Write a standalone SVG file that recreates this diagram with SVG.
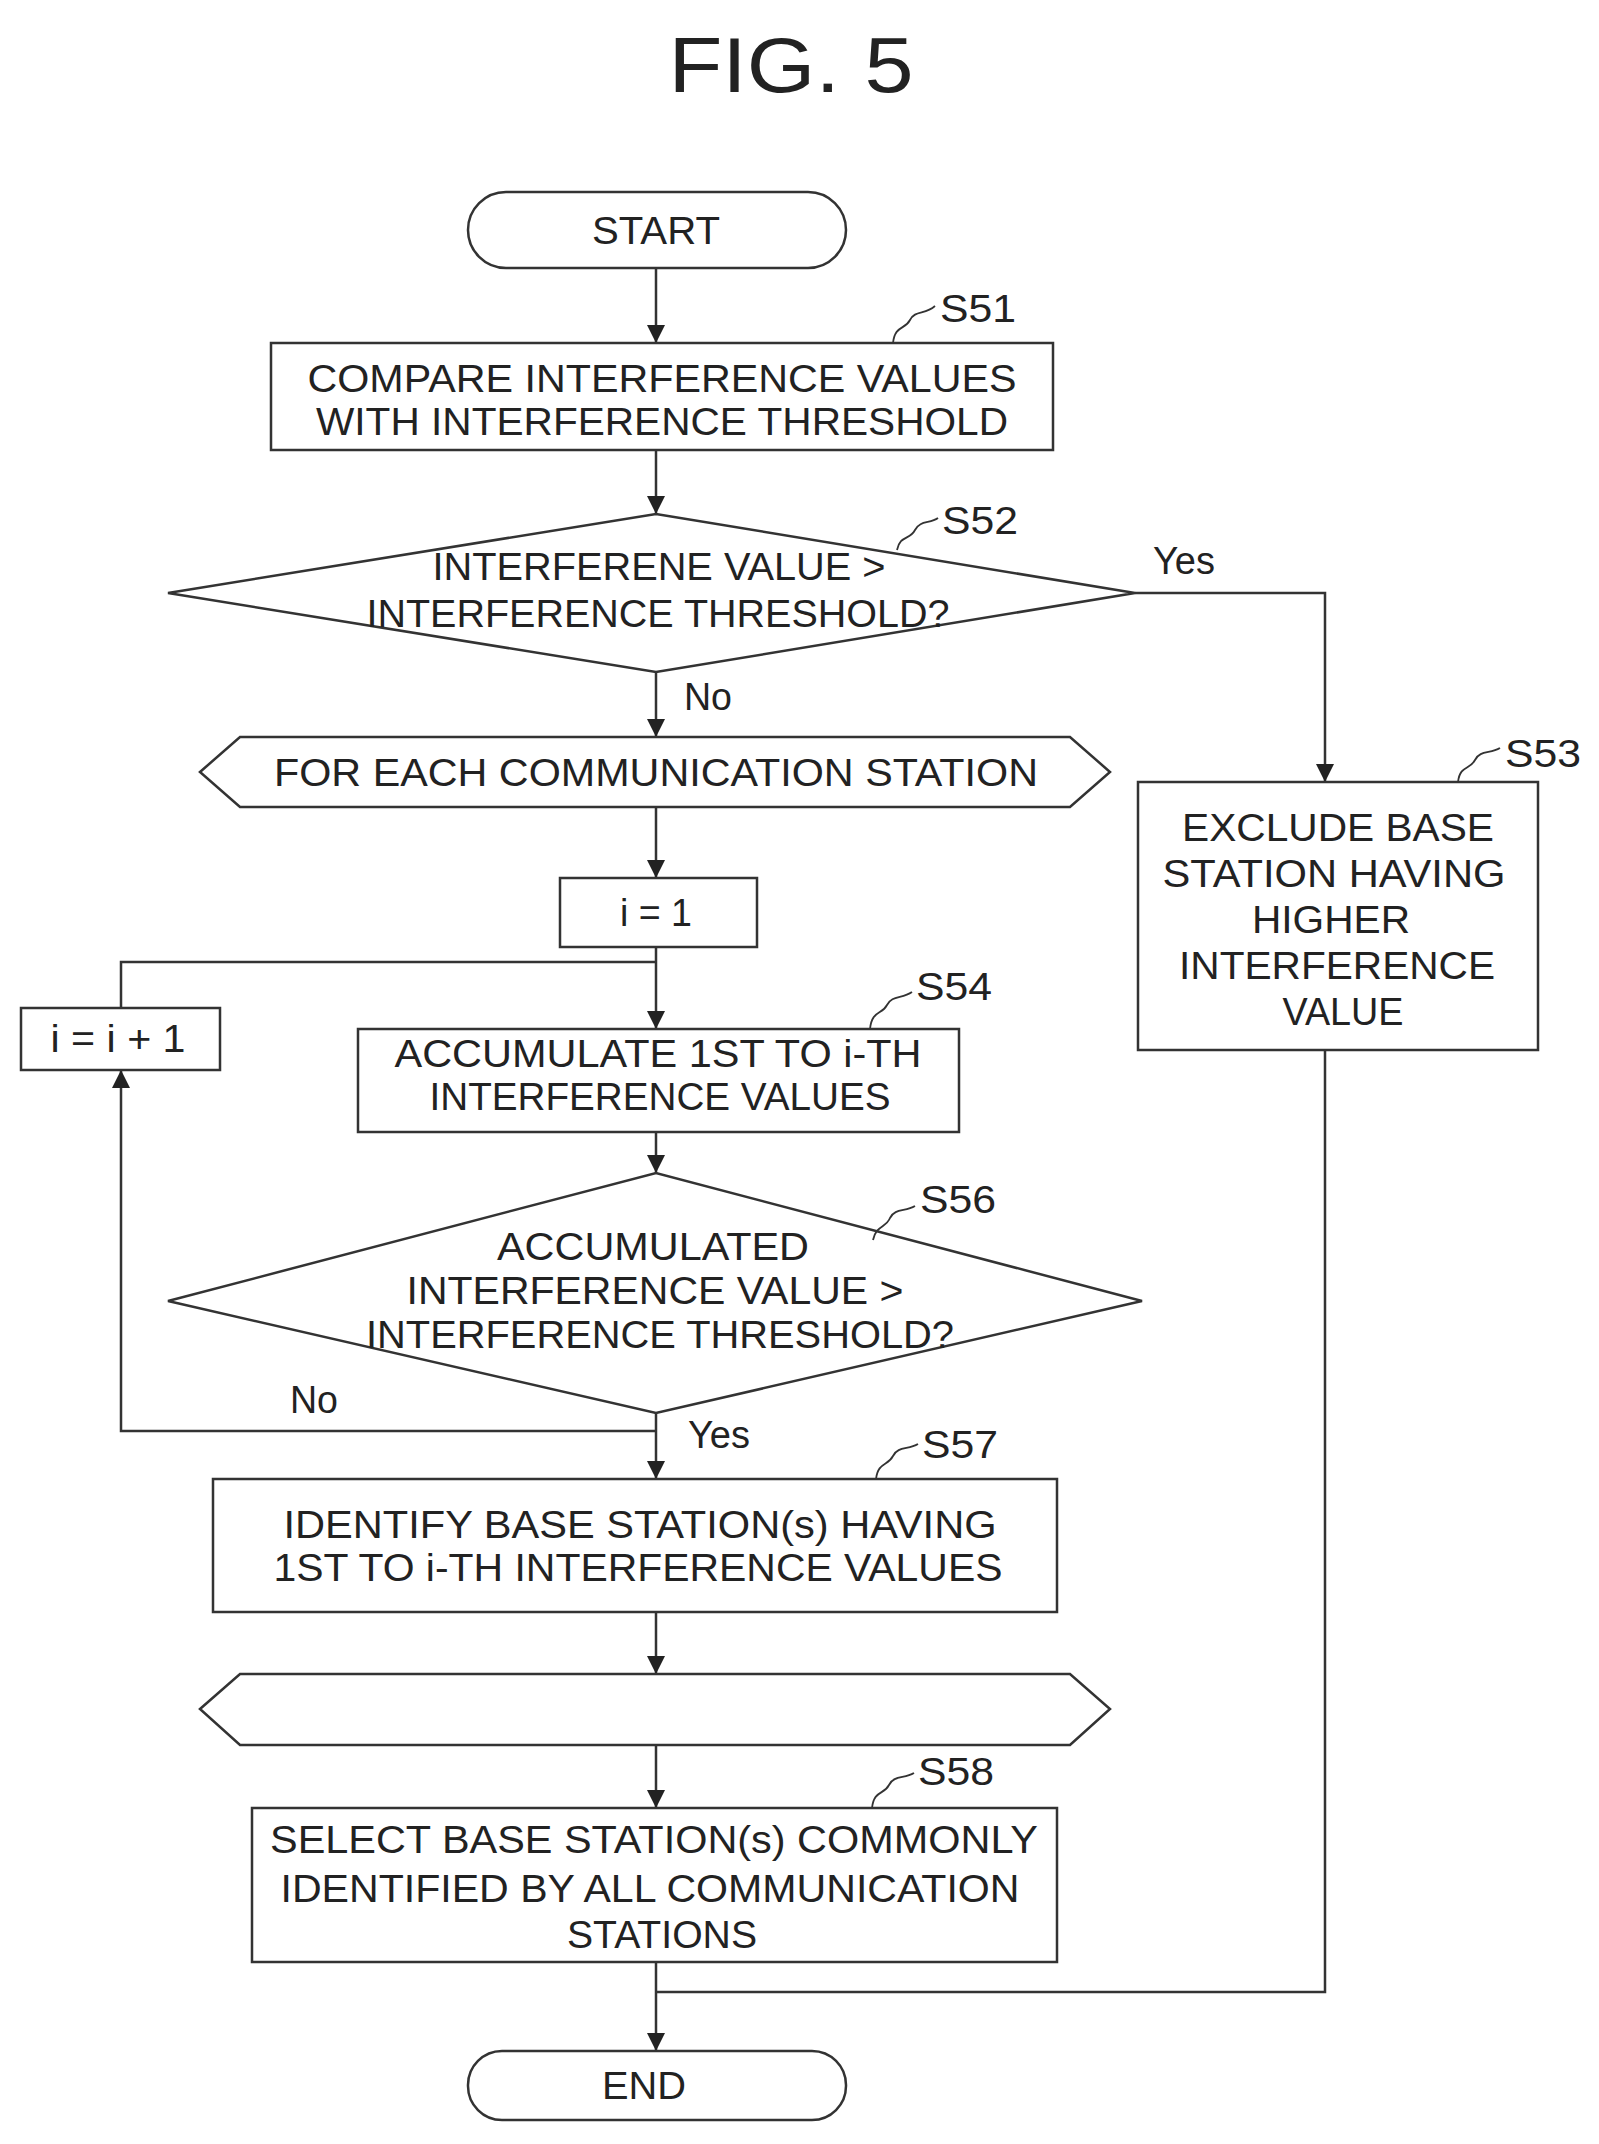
<svg xmlns="http://www.w3.org/2000/svg" width="1599" height="2144" viewBox="0 0 1599 2144">
<defs>
<marker id="ah" viewBox="0 0 10 10" refX="10" refY="5" markerWidth="18" markerHeight="26" markerUnits="userSpaceOnUse" orient="auto"><path d="M0,0 L10,5 L0,10 z" fill="#222"/></marker>
</defs>
<style>
.s{fill:#fff;stroke:#333;stroke-width:2.5}
.t{font-family:"Liberation Sans",Arial,sans-serif;font-size:39px;fill:#222;text-anchor:middle}
.l{font-family:"Liberation Sans",Arial,sans-serif;font-size:38px;fill:#222}
.c{fill:none;stroke:#333;stroke-width:2.5}
.q{fill:none;stroke:#333;stroke-width:1.8}
</style>
<rect width="1599" height="2144" fill="#fff"/>
<text x="791" y="92" class="t" style="font-size:78px" textLength="245" lengthAdjust="spacingAndGlyphs">FIG. 5</text>
<g id="connectors">
<line class="c" x1="656" y1="268" x2="656" y2="343" marker-end="url(#ah)"/>
<line class="c" x1="656" y1="450" x2="656" y2="514" marker-end="url(#ah)"/>
<line class="c" x1="656" y1="672" x2="656" y2="737" marker-end="url(#ah)"/>
<polyline class="c" points="1135,593 1325,593 1325,782" marker-end="url(#ah)"/>
<line class="c" x1="656" y1="807" x2="656" y2="878" marker-end="url(#ah)"/>
<line class="c" x1="656" y1="947" x2="656" y2="1029" marker-end="url(#ah)"/>
<polyline class="c" points="121,1008 121,962 656,962"/>
<line class="c" x1="656" y1="1132" x2="656" y2="1173" marker-end="url(#ah)"/>
<polyline class="c" points="656,1431 121,1431 121,1070" marker-end="url(#ah)"/>
<line class="c" x1="656" y1="1413" x2="656" y2="1479" marker-end="url(#ah)"/>
<line class="c" x1="656" y1="1612" x2="656" y2="1674" marker-end="url(#ah)"/>
<line class="c" x1="656" y1="1745" x2="656" y2="1808" marker-end="url(#ah)"/>
<line class="c" x1="656" y1="1962" x2="656" y2="2051" marker-end="url(#ah)"/>
<polyline class="c" points="1325,1050 1325,1992 656,1992"/>
<text class="l" x="1153" y="574" textLength="62" lengthAdjust="spacingAndGlyphs">Yes</text>
<text class="l" x="684" y="710" textLength="48" lengthAdjust="spacingAndGlyphs">No</text>
<text class="l" x="290" y="1413" textLength="48" lengthAdjust="spacingAndGlyphs">No</text>
<text class="l" x="688" y="1448" textLength="62" lengthAdjust="spacingAndGlyphs">Yes</text>
</g>
<g id="start"><rect class="s" x="468" y="192" width="378" height="76" rx="38"/><text class="t" x="656" y="244" textLength="128" lengthAdjust="spacingAndGlyphs">START</text></g>
<g id="S51"><rect class="s" x="271" y="343" width="782" height="107"/>
<text class="t" x="662" y="392" textLength="709" lengthAdjust="spacingAndGlyphs">COMPARE INTERFERENCE VALUES</text>
<text class="t" x="662" y="435" textLength="692" lengthAdjust="spacingAndGlyphs">WITH INTERFERENCE THRESHOLD</text>
<path class="q" d="M893,343 C895,325 905,330 910,320 C915,310 925,315 935,306"/>
<text class="l" x="940" y="322" textLength="76" lengthAdjust="spacingAndGlyphs">S51</text></g>
<g id="S52"><polygon class="s" points="168,593 656,514 1135,593 656,672"/>
<text class="t" x="659" y="580" textLength="453" lengthAdjust="spacingAndGlyphs">INTERFERENE VALUE &gt;</text>
<text class="t" x="658" y="627" textLength="583" lengthAdjust="spacingAndGlyphs">INTERFERENCE THRESHOLD?</text>
<path class="q" d="M897,550 C900,535 910,540 915,530 C920,520 930,524 938,518"/>
<text class="l" x="942" y="534" textLength="76" lengthAdjust="spacingAndGlyphs">S52</text></g>
<g id="loopstart"><polygon class="s" points="200,772 240,737 1070,737 1110,772 1070,807 240,807"/>
<text class="t" x="656" y="786" textLength="764" lengthAdjust="spacingAndGlyphs">FOR EACH COMMUNICATION STATION</text></g>
<g id="init"><rect class="s" x="560" y="878" width="197" height="69"/><text class="t" x="656" y="926" textLength="72" lengthAdjust="spacingAndGlyphs">i = 1</text></g>
<g id="inc"><rect class="s" x="21" y="1008" width="199" height="62"/><text class="t" x="118" y="1052" textLength="135" lengthAdjust="spacingAndGlyphs">i = i + 1</text></g>
<g id="S54"><rect class="s" x="358" y="1029" width="601" height="103"/>
<text class="t" x="658" y="1067" textLength="527" lengthAdjust="spacingAndGlyphs">ACCUMULATE 1ST TO i-TH</text>
<text class="t" x="660" y="1110" textLength="461" lengthAdjust="spacingAndGlyphs">INTERFERENCE VALUES</text>
<path class="q" d="M870,1029 C872,1010 882,1015 887,1005 C892,995 902,999 912,992"/>
<text class="l" x="916" y="1000" textLength="76" lengthAdjust="spacingAndGlyphs">S54</text></g>
<g id="S56"><polygon class="s" points="168,1301 656,1173 1142,1301 656,1413"/>
<text class="t" x="653" y="1260" textLength="312" lengthAdjust="spacingAndGlyphs">ACCUMULATED</text>
<text class="t" x="655" y="1304" textLength="497" lengthAdjust="spacingAndGlyphs">INTERFERENCE VALUE &gt;</text>
<text class="t" x="660" y="1348" textLength="588" lengthAdjust="spacingAndGlyphs">INTERFERENCE THRESHOLD?</text>
<path class="q" d="M873,1240 C876,1225 886,1228 890,1218 C895,1208 905,1212 915,1206"/>
<text class="l" x="920" y="1213" textLength="76" lengthAdjust="spacingAndGlyphs">S56</text></g>
<g id="S53"><rect class="s" x="1138" y="782" width="400" height="268"/>
<text class="t" x="1338" y="841" textLength="312" lengthAdjust="spacingAndGlyphs">EXCLUDE BASE</text>
<text class="t" x="1334" y="887" textLength="343" lengthAdjust="spacingAndGlyphs">STATION HAVING</text>
<text class="t" x="1331" y="933" textLength="158" lengthAdjust="spacingAndGlyphs">HIGHER</text>
<text class="t" x="1337" y="979" textLength="316" lengthAdjust="spacingAndGlyphs">INTERFERENCE</text>
<text class="t" x="1343" y="1025" textLength="121" lengthAdjust="spacingAndGlyphs">VALUE</text>
<path class="q" d="M1458,782 C1460,765 1470,770 1475,760 C1480,750 1490,754 1500,748"/>
<text class="l" x="1505" y="767" textLength="76" lengthAdjust="spacingAndGlyphs">S53</text></g>
<g id="S57"><rect class="s" x="213" y="1479" width="844" height="133"/>
<text class="t" x="640" y="1538" textLength="713" lengthAdjust="spacingAndGlyphs">IDENTIFY BASE STATION(s) HAVING</text>
<text class="t" x="638" y="1581" textLength="729" lengthAdjust="spacingAndGlyphs">1ST TO i-TH INTERFERENCE VALUES</text>
<path class="q" d="M876,1479 C878,1462 888,1466 893,1456 C898,1446 908,1450 918,1444"/>
<text class="l" x="922" y="1458" textLength="76" lengthAdjust="spacingAndGlyphs">S57</text></g>
<g id="loopend"><polygon class="s" points="200,1709 240,1674 1070,1674 1110,1709 1070,1745 240,1745"/></g>
<g id="S58"><rect class="s" x="252" y="1808" width="805" height="154"/>
<text class="t" x="654" y="1853" textLength="768" lengthAdjust="spacingAndGlyphs">SELECT BASE STATION(s) COMMONLY</text>
<text class="t" x="650" y="1902" textLength="739" lengthAdjust="spacingAndGlyphs">IDENTIFIED BY ALL COMMUNICATION</text>
<text class="t" x="662" y="1948" textLength="190" lengthAdjust="spacingAndGlyphs">STATIONS</text>
<path class="q" d="M872,1808 C874,1790 884,1795 889,1785 C894,1775 904,1779 914,1773"/>
<text class="l" x="918" y="1785" textLength="76" lengthAdjust="spacingAndGlyphs">S58</text></g>
<g id="end"><rect class="s" x="468" y="2051" width="378" height="69" rx="34"/><text class="t" x="644" y="2099" textLength="84" lengthAdjust="spacingAndGlyphs">END</text></g>
</svg>
